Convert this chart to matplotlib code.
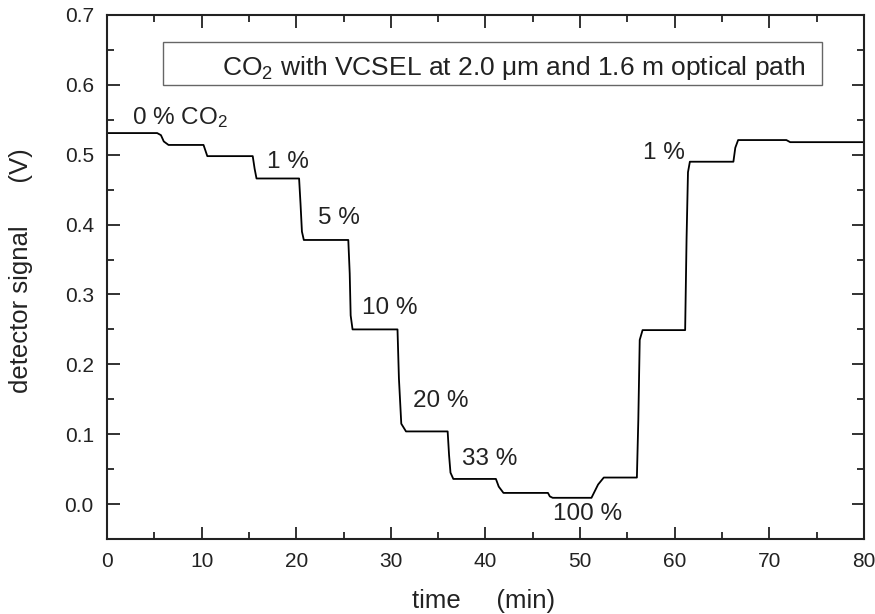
import matplotlib
matplotlib.use("Agg")
import matplotlib.pyplot as plt
from matplotlib.patches import Rectangle
from matplotlib.ticker import MultipleLocator, FormatStrFormatter

plt.rcParams['font.family'] = ['Liberation Sans', 'DejaVu Sans']
plt.rcParams['mathtext.fontset'] = 'custom'
plt.rcParams['mathtext.rm'] = 'Liberation Sans'
plt.rcParams['mathtext.it'] = 'Liberation Sans:italic'

# detector signal (V) vs. time (min), corner points of the step record
time_min = [0.0, 5.3, 5.7, 6.0, 6.5, 10.2, 10.4, 10.6, 15.4, 15.6, 15.8,
            20.3, 20.45, 20.6, 20.8, 25.5, 25.65, 25.75, 25.95, 30.7, 30.85,
            31.1, 31.6, 36.0, 36.15, 36.3, 36.6, 41.1, 41.4, 41.9, 46.6, 46.8,
            47.1, 51.2, 51.9, 52.5, 56.0, 56.15, 56.3, 56.6, 61.1, 61.25,
            61.4, 61.6, 66.2, 66.4, 66.7, 71.8, 72.2, 80.0]
signal_v = [0.531, 0.531, 0.528, 0.519, 0.514, 0.514, 0.506, 0.498, 0.498,
            0.480, 0.466, 0.466, 0.430, 0.390, 0.378, 0.378, 0.330, 0.270,
            0.250, 0.250, 0.180, 0.115, 0.104, 0.104, 0.070, 0.045, 0.036,
            0.036, 0.025, 0.016, 0.016, 0.011, 0.009, 0.009, 0.028, 0.038,
            0.038, 0.120, 0.235, 0.249, 0.249, 0.380, 0.475, 0.490, 0.490,
            0.510, 0.521, 0.521, 0.518, 0.518]

# concentration labels: text, x, baseline y
label_text = ['0 % CO$_2$', '1 %', '5 %', '10 %', '20 %', '33 %', '100 %', '1 %']
label_x = [2.6, 16.9, 22.3, 27.0, 32.3, 37.5, 47.1, 56.6]
label_y = [0.544, 0.481, 0.401, 0.272, 0.139, 0.056, -0.023, 0.494]

fig = plt.figure(figsize=(8.75, 6.14), dpi=100)
ax = fig.add_axes([0.1223, 0.1221, 0.8651, 0.8535])

ax.plot(time_min, signal_v, color='black', lw=1.3)

txt_color = '#222222'
for s, x, y in zip(label_text, label_x, label_y):
    ax.text(x, y, s, fontsize=17.5, color=txt_color, ha='left', va='baseline')

# title box
ax.add_patch(Rectangle((5.88, 0.600), 69.7, 0.061, fill=False,
                       edgecolor='#666666', lw=1.0))
ax.text(12.1, 0.614, r'CO$_2$ with VCSEL at 2.0 μm and 1.6 m optical path',
        fontsize=19, color=txt_color, ha='left', va='baseline')

ax.set_xlim(0, 80)
ax.set_ylim(-0.05, 0.7)
ax.xaxis.set_major_locator(MultipleLocator(10))
ax.xaxis.set_minor_locator(MultipleLocator(5))
ax.yaxis.set_major_locator(MultipleLocator(0.1))
ax.yaxis.set_minor_locator(MultipleLocator(0.05))
ax.yaxis.set_major_formatter(FormatStrFormatter('%.1f'))

ax.tick_params(which='both', direction='in', top=True, right=True,
               labelsize=15, colors='#222222')
ax.tick_params(which='major', length=9, width=1.3, pad=9.5)
ax.tick_params(which='minor', length=5, width=1.3)
for sp in ax.spines.values():
    sp.set_linewidth(1.5)
    sp.set_color('#222222')

ax.set_xlabel('time     (min)', fontsize=18.5, color=txt_color)
ax.set_ylabel('detector signal      (V)', fontsize=18.5, color=txt_color)
ax.xaxis.set_label_coords(0.497, -0.095)
ax.yaxis.set_label_coords(-0.098, 0.512)

fig.savefig('out.png', dpi=100)
